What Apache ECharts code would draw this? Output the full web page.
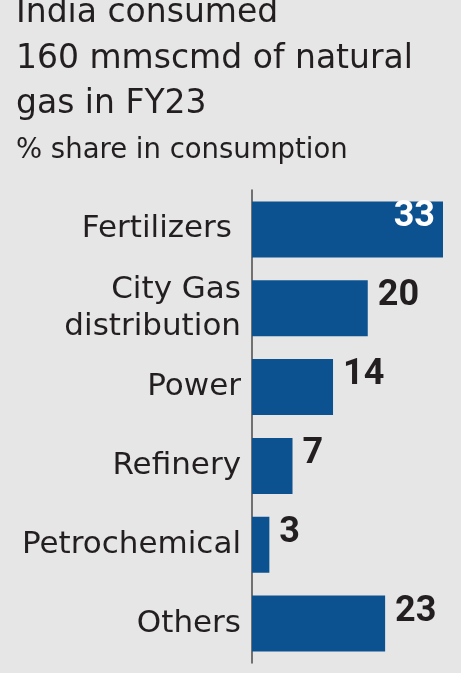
<!DOCTYPE html>
<html>
<head>
<meta charset="utf-8">
<script src="https://cdn.jsdelivr.net/npm/echarts@6/dist/echarts.min.js"></script>
<style>
html,body{margin:0;padding:0;background:#e6e6e6;}
#chart{width:461px;height:673px;}
</style>
</head>
<body>
<div id="chart"></div>
<script>
var categories = ['Fertilizers', 'City Gas\ndistribution', 'Power', 'Refinery', 'Petrochemical', 'Others'];
var values = [33, 20, 14, 7, 3, 23];
var titleLines = 'India consumed\n160 mmscmd of natural\ngas in FY23';
var subtitleText = '% share in consumption';

var FONT = 'DejaVu Sans';
var TEXT = '#231f20';
var chart = echarts.init(document.getElementById('chart'), null, {renderer: 'canvas'});
var data = values.map(function (v, i) {
  return {
    value: v,
    label: i === 0 ? {position: 'insideRight', color: '#ffffff', offset: [2, -12]} : {}
  };
});
chart.setOption({
  backgroundColor: '#e6e6e6',
  animation: false,
  title: [{
    text: titleLines,
    left: 16, top: -9, padding: 0,
    textStyle: {fontFamily: FONT, fontWeight: 'normal', fontSize: 33, lineHeight: 45.5, color: TEXT}
  }, {
    text: subtitleText,
    left: 16, top: 137, padding: 0,
    textStyle: {fontFamily: FONT, fontWeight: 'normal', fontSize: 27.5, color: TEXT}
  }],
  grid: {left: 252, top: 190, width: 191, bottom: 10},
  xAxis: {type: 'value', min: 0, max: 33, show: false},
  yAxis: {
    type: 'category', data: categories, inverse: true,
    axisLine: {show: true, lineStyle: {color: '#4a4a4a', width: 1.5}},
    axisTick: {show: false},
    axisLabel: {
      fontFamily: FONT, fontSize: 31, color: TEXT, margin: 11, lineHeight: 37, align: 'right',
      formatter: function (v, i) { return i === 0 ? '{f|' + v + '}' : v; },
      rich: {f: {fontFamily: FONT, fontSize: 31, color: TEXT, padding: [0, 9, 0, 0]}}
    }
  },
  series: [{
    type: 'bar', data: data, barWidth: 56,
    itemStyle: {color: '#0d5290'},
    label: {
      show: true, position: 'right', distance: 10, offset: [0, -12],
      fontFamily: 'Roboto', fontWeight: 'bold', fontSize: 36, color: TEXT
    }
  }]
});
</script>
</body>
</html>
